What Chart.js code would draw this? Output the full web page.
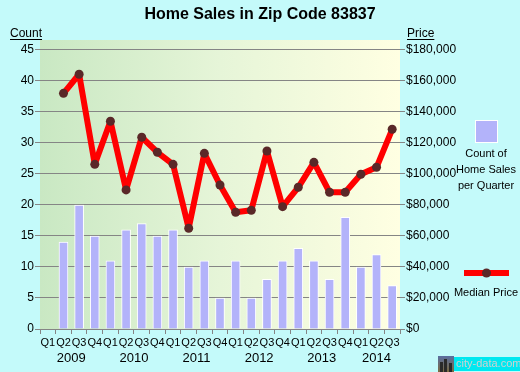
<!DOCTYPE html>
<html>
<head>
<meta charset="utf-8">
<script src="https://cdn.jsdelivr.net/npm/chart.js@4"></script>
<style>
html,body{margin:0;padding:0;background:#c4fafa;}
#wrap{width:520px;height:372px;position:relative;}
</style>
</head>
<body>
<div id="wrap"><canvas id="c" width="520" height="372"></canvas></div>
<script>
// ---- data ----
const quarterLabels = ['Q1','Q2','Q3','Q4','Q1','Q2','Q3','Q4','Q1','Q2','Q3','Q4','Q1','Q2','Q3','Q4','Q1','Q2','Q3','Q4','Q1','Q2','Q3'];
const quarterYears  = ['2009','2009','2009','2009','2010','2010','2010','2010','2011','2011','2011','2011','2012','2012','2012','2012','2013','2013','2013','2013','2014','2014','2014'];
const salesCount = [null,14,20,15,11,16,17,15,16,10,11,5,11,5,8,11,13,11,8,18,10,12,7];
const medianPrice = [null,152000,164300,106200,134000,89700,123700,114000,106200,65000,113300,92900,75300,76600,114800,78900,91400,107500,88200,88200,99800,104300,128800];
const countTicks = [0,5,10,15,20,25,30,35,40,45];
const priceTicks = [0,20000,40000,60000,80000,100000,120000,140000,160000,180000];

const FONT = '"Liberation Sans", Arial, sans-serif';
const GRID = '#858585';

const decorPlugin = {
  id: 'decor',
  beforeDraw(chart) {
    const {ctx, chartArea: a} = chart;
    ctx.save();
    ctx.fillStyle = '#c4fafa';
    ctx.fillRect(0, 0, chart.width, chart.height);
    const g = ctx.createLinearGradient(a.left, 0, a.right, 0);
    g.addColorStop(0, '#c9e8c3');
    g.addColorStop(0.5, '#e6f5d8');
    g.addColorStop(1, '#ffffe2');
    ctx.fillStyle = g;
    ctx.fillRect(a.left, a.top, a.right - a.left, a.bottom - a.top);
    ctx.restore();
  },
  afterDraw(chart) {
    const {ctx} = chart;
    const xs = chart.scales.x;
    ctx.save();
    // title
    ctx.fillStyle = '#000';
    ctx.font = 'bold 16px ' + FONT;
    ctx.textAlign = 'center';
    ctx.textBaseline = 'middle';
    ctx.fillText('Home Sales in Zip Code 83837', 260, 15);
    // axis titles
    ctx.font = '12px ' + FONT;
    ctx.textAlign = 'left';
    ctx.textBaseline = 'alphabetic';
    ctx.fillText('Count', 10, 37);
    let w = ctx.measureText('Count').width;
    ctx.fillRect(10, 39, w, 1);
    ctx.fillText('Price', 407, 37);
    w = ctx.measureText('Price').width;
    ctx.fillRect(407, 39, w, 1);
    // year labels
    ctx.font = '13px ' + FONT;
    ctx.textAlign = 'center';
    ctx.textBaseline = 'middle';
    const groups = {};
    quarterYears.forEach((y, i) => { (groups[y] = groups[y] || []).push(i); });
    Object.keys(groups).forEach(y => {
      const idx = groups[y];
      const px = (xs.getPixelForValue(idx[0]) + xs.getPixelForValue(idx[idx.length - 1])) / 2;
      ctx.fillText(y, px, 358);
    });
    // legend: count
    ctx.fillStyle = '#b3b3fa';
    ctx.fillRect(475, 120, 23, 23);
    ctx.strokeStyle = '#ffffff';
    ctx.lineWidth = 1;
    ctx.strokeRect(475.5, 120.5, 22, 22);
    ctx.fillStyle = '#000';
    ctx.font = '11px ' + FONT;
    ctx.fillText('Count of', 486, 154);
    ctx.fillText('Home Sales', 486, 170);
    ctx.fillText('per Quarter', 486, 186);
    // legend: median price
    ctx.fillStyle = '#ff0000';
    ctx.fillRect(464, 270, 45, 6);
    ctx.fillStyle = '#5a2828';
    ctx.beginPath();
    ctx.arc(486.5, 273, 4.5, 0, Math.PI * 2);
    ctx.fill();
    ctx.fillStyle = '#000';
    ctx.fillText('Median Price', 486, 293);
    // watermark
    const ig = ctx.createLinearGradient(0, 356, 0, 372);
    ig.addColorStop(0, '#5a6ea0');
    ig.addColorStop(1, '#7a6a40');
    ctx.fillStyle = ig;
    ctx.fillRect(438, 356, 16, 16);
    ctx.fillStyle = '#2a2a2a';
    ctx.fillRect(440, 362, 3, 10);
    ctx.fillRect(444, 359, 3, 13);
    ctx.fillRect(449, 363, 3, 9);
    ctx.fillStyle = '#00e8f0';
    ctx.fillRect(454, 357, 66, 14);
    ctx.fillStyle = '#d0d0d0';
    ctx.font = '11px ' + FONT;
    ctx.textAlign = 'left';
    ctx.fillText('city-data.com', 456, 364);
    ctx.restore();
  }
};

new Chart(document.getElementById('c'), {
  data: {
    labels: quarterLabels,
    datasets: [
      {
        type: 'line',
        label: 'Median Price',
        data: medianPrice,
        yAxisID: 'y2',
        borderColor: '#ff0000',
        borderWidth: 6,
        borderJoinStyle: 'round',
        pointRadius: 4.5,
        pointBackgroundColor: '#5a2828',
        pointBorderColor: '#5a2828',
        pointBorderWidth: 0,
        tension: 0,
        order: 0
      },
      {
        type: 'bar',
        label: 'Count of Home Sales per Quarter',
        data: salesCount,
        yAxisID: 'y',
        backgroundColor: '#b3b3fa',
        borderColor: '#ffffff',
        borderWidth: 1,
        borderSkipped: 'start',
        barThickness: 9,
        order: 1
      }
    ]
  },
  options: {
    responsive: false,
    animation: false,
    events: [],
    layout: { padding: { top: 40, left: 0, right: 0, bottom: 0 } },
    plugins: { legend: { display: false }, title: { display: false }, tooltip: { enabled: false } },
    scales: {
      x: {
        offset: true,
        grid: { offset: true, drawOnChartArea: false, color: GRID, tickLength: 5, tickColor: GRID },
        border: { color: GRID },
        ticks: { color: '#000', font: { size: 11, family: FONT }, padding: 2, maxRotation: 0, autoSkip: false },
        afterFit(s) { s.height = 43; }
      },
      y: {
        position: 'left',
        min: 0,
        max: 46.6,
        afterBuildTicks(s) { s.ticks = countTicks.map(v => ({ value: v })); },
        grid: { color: GRID, tickLength: 5, tickColor: GRID },
        border: { display: false },
        ticks: { color: '#000', font: { size: 12, family: FONT }, padding: 1 },
        afterFit(s) { s.width = 40; }
      },
      y2: {
        position: 'right',
        min: 0,
        max: 186400,
        afterBuildTicks(s) { s.ticks = priceTicks.map(v => ({ value: v })); },
        grid: { drawOnChartArea: false, tickLength: 5, color: GRID, tickColor: GRID },
        border: { display: false },
        ticks: {
          color: '#000', font: { size: 12, family: FONT }, padding: 1,
          callback: v => '$' + Number(v).toLocaleString('en-US')
        },
        afterFit(s) { s.width = 120; }
      }
    }
  },
  plugins: [decorPlugin]
});
</script>
</body>
</html>
